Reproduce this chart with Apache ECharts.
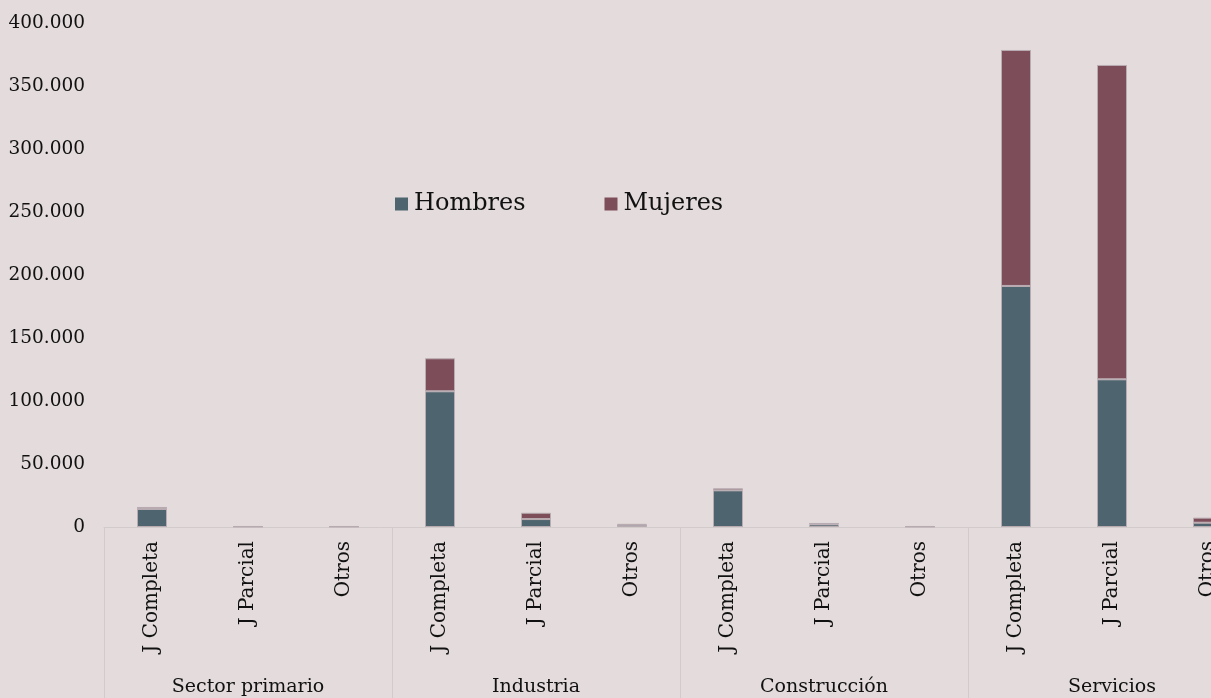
<!DOCTYPE html>
<html>
<head>
<meta charset="utf-8">
<script src="https://cdn.jsdelivr.net/npm/echarts@6/dist/echarts.min.js"></script>
<style>
  html, body { margin: 0; padding: 0; background: #E3DBDC; }
  #chart { width: 1211px; height: 698px; }
</style>
</head>
<body>
<div id="chart"></div>
<script>
const subCategories = ['J Completa', 'J Parcial', 'Otros',
                       'J Completa', 'J Parcial', 'Otros',
                       'J Completa', 'J Parcial', 'Otros',
                       'J Completa', 'J Parcial', 'Otros'];
const sectors = ['Sector primario', 'Industria', 'Construcción', 'Servicios'];
const hombres = [14300, 300, 300, 107700, 6300, 1700, 29100, 2100, 300, 191300, 117200, 3400];
const mujeres = [1600, 200, 200, 26200, 5000, 700, 1600, 1100, 200, 187300, 249500, 4000];

const font = 'DejaVu Serif';
const colors = ['#4E656F', '#7E4D5A'];

const chart = echarts.init(document.getElementById('chart'));
const fmt = v => String(v).replace(/\B(?=(\d{3})+(?!\d))/g, '.');

chart.setOption({
    backgroundColor: '#E3DBDC',
    color: colors,
    textStyle: { fontFamily: font },
    animation: false,
    legend: {
        data: ['Hombres', 'Mujeres'],
        left: 390,
        top: 187,
        icon: 'rect',
        itemWidth: 13,
        itemHeight: 13,
        itemGap: 79,
        itemStyle: { borderWidth: 0 },
        textStyle: { fontFamily: font, fontSize: 24, color: '#111', padding: [0, 0, 0, 1] }
    },
    grid: { left: 104, width: 1152, top: 23, bottom: 171, containLabel: false, outerBoundsMode: 'none' },
    xAxis: [
        {
            type: 'category',
            data: subCategories,
            axisLine: { show: false },
            axisTick: { show: false },
            axisLabel: {
                rotate: 90,
                interval: 0,
                margin: 14,
                fontFamily: font,
                fontSize: 20,
                color: '#111'
            }
        },
        {
            type: 'category',
            data: sectors,
            position: 'bottom',
            axisLine: { show: true, lineStyle: { color: '#D2CBCC', width: 1 } },
            axisTick: { show: true, length: 171, interval: 0, lineStyle: { color: '#D2CBCC', width: 1 } },
            axisLabel: {
                interval: 0,
                margin: 151,
                fontFamily: font,
                fontSize: 19,
                color: '#111'
            }
        }
    ],
    yAxis: {
        type: 'value',
        min: 0,
        max: 400000,
        interval: 50000,
        axisLine: { show: false },
        axisTick: { show: false },
        splitLine: { show: false },
        axisLabel: {
            margin: 19,
            fontFamily: font,
            fontSize: 18.5,
            color: '#111',
            lineHeight: 24,
            padding: [4, 0, 0, 0],
            formatter: fmt
        }
    },
    series: [
        {
            name: 'Hombres',
            type: 'bar',
            stack: 'total',
            barWidth: 30,
            data: hombres,
            itemStyle: { borderColor: '#B8ACB1', borderWidth: 1 }
        },
        {
            name: 'Mujeres',
            type: 'bar',
            stack: 'total',
            barWidth: 30,
            data: mujeres,
            itemStyle: { borderColor: '#B8ACB1', borderWidth: 1 }
        }
    ]
});
</script>
</body>
</html>
